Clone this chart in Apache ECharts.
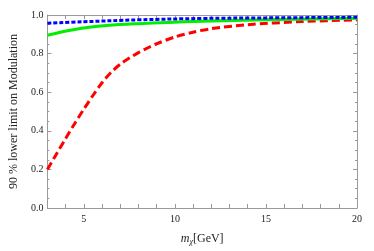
<!DOCTYPE html>
<html><head><meta charset="utf-8">
<script src="https://cdn.jsdelivr.net/npm/echarts@6/dist/echarts.min.js"></script>
<style>html,body{margin:0;padding:0;background:#fff}#c{width:374px;height:251px}</style>
</head><body><div id="c"></div>
<script>
const redX = [3, 3.5, 4, 4.5, 5, 5.5, 6, 6.5, 7, 7.5, 8, 8.5, 9, 10, 11, 12, 14, 17, 20];
const redY = [0.20, 0.28, 0.36, 0.438, 0.512, 0.583, 0.649, 0.703, 0.745, 0.777, 0.805, 0.829, 0.851, 0.886, 0.911, 0.929, 0.950, 0.966, 0.975];
const greenX = [3, 4.5, 6.25, 8, 11.5, 15, 20];
const greenY = [0.895, 0.925, 0.945, 0.955, 0.967, 0.975, 0.983];
const blueX = [3, 5, 8, 11.5, 15, 20];
const blueY = [0.957, 0.965, 0.975, 0.982, 0.985, 0.988];
const xTickLabels = [5, 10, 15, 20];
const yTickLabels = ['0.0', '0.2', '0.4', '0.6', '0.8', '1.0'];

const pairs = (xs, ys) => xs.map((x, i) => [x, ys[i]]);
const font = '"Liberation Serif", "DejaVu Serif", serif';
const axCol = '#999';
const chart = echarts.init(document.getElementById('c'), null, {renderer: 'canvas'});
const baseX = {
  type: 'value', min: 3, max: 20, interval: 1,
  axisLine: {show: true, onZero: false, lineStyle: {color: axCol, width: 1}},
  axisTick: {show: true, inside: true, length: 4, lineStyle: {color: axCol}},
  splitLine: {show: false}
};
const baseY = {
  type: 'value', min: 0, max: 1, interval: 0.2,
  axisLine: {show: true, onZero: false, lineStyle: {color: axCol, width: 1}},
  axisTick: {show: true, inside: true, length: 4, lineStyle: {color: axCol}},
  minorTick: {show: true, splitNumber: 4, length: 2, lineStyle: {color: axCol}},
  splitLine: {show: false}
};
chart.setOption({
  animation: false,
  grid: {left: 35, right: 17, top: 15, bottom: 36},
  xAxis: [
    Object.assign({}, baseX, {
      position: 'bottom',
      axisLabel: {
        fontFamily: font, fontSize: 10, color: '#222', margin: 6,
        formatter: v => xTickLabels.includes(v) ? String(v) : ''
      },
      name: '{i|m}{s|χ}{n|[GeV]}', nameLocation: 'middle', nameGap: 24,
      nameTextStyle: {
        rich: {
          i: {fontFamily: font, fontStyle: 'italic', fontSize: 12, color: '#222'},
          s: {fontFamily: font, fontStyle: 'italic', fontSize: 8, color: '#222', verticalAlign: 'bottom', padding: [6, 0, 0, 0]},
          n: {fontFamily: font, fontSize: 12, color: '#222'}
        }
      }
    }),
    Object.assign({}, baseX, {position: 'top', axisLabel: {show: false}})
  ],
  yAxis: [
    Object.assign({}, baseY, {
      position: 'left',
      axisLabel: {fontFamily: font, fontSize: 10, color: '#222', margin: 4,
        formatter: v => yTickLabels[Math.round(v * 5)]},
      name: '90 % lower limit on Modulation', nameLocation: 'middle', nameGap: 24,
      nameTextStyle: {fontFamily: font, fontSize: 12, color: '#222'}
    }),
    Object.assign({}, baseY, {position: 'right', axisLabel: {show: false}})
  ],
  series: [
    {type: 'line', data: pairs(redX, redY), smooth: 0.3, showSymbol: false,
     lineStyle: {color: '#ff0000', width: 3, type: [8, 4]}},
    {type: 'line', data: pairs(greenX, greenY), smooth: 0.4, showSymbol: false,
     lineStyle: {color: '#00ee00', width: 3, type: 'solid'}},
    {type: 'line', data: pairs(blueX, blueY), smooth: 0.4, showSymbol: false,
     lineStyle: {color: '#0000ff', width: 3, type: [4, 2]}}
  ]
});
</script>
</body></html>
